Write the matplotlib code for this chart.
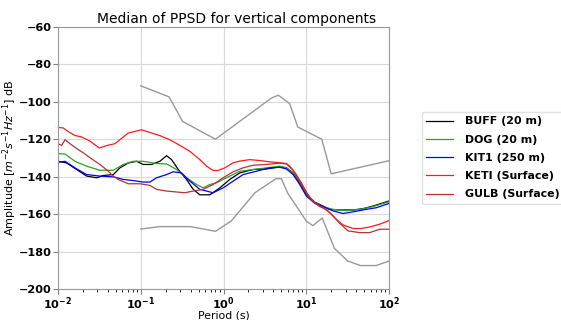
import numpy as np
import matplotlib
matplotlib.use("Agg")
import matplotlib.pyplot as plt

# ---- data (log10 of period in s, amplitude in dB) ----
buff_logp = [-2.0, -1.895, -1.775, -1.654, -1.533, -1.453, -1.332, -1.252, -1.151, -1.05, -0.97, -0.869,
             -0.769, -0.688, -0.628, -0.547, -0.447, -0.366, -0.286, -0.165, -0.044, 0.076, 0.197, 0.358,
             0.519, 0.68, 0.761, 0.841, 0.922, 1.002, 1.103, 1.203, 1.284, 1.404, 1.565, 1.686, 1.807, 2.0]
buff_db = [-131.8, -132.7, -136.2, -139.7, -140.6, -139.4, -138.9, -135.3, -132.7, -131.8, -133.5, -133.5,
           -131.8, -128.8, -130.9, -136.2, -141.5, -146.8, -149.7, -149.7, -146.0, -141.5, -138.0, -136.2,
           -135.9, -134.8, -135.3, -138.0, -143.3, -149.5, -153.6, -155.7, -157.5, -157.8, -157.8, -157.1,
           -155.7, -153.0]

dog_logp = [-2.0, -1.915, -1.795, -1.654, -1.493, -1.332, -1.211, -1.091, -0.97, -0.809, -0.688, -0.567,
            -0.447, -0.326, -0.246, -0.165, -0.085, 0.036, 0.197, 0.358, 0.519, 0.68, 0.761, 0.841, 0.922,
            1.002, 1.103, 1.203, 1.324, 1.485, 1.646, 1.807, 2.0]
dog_db = [-127.7, -127.9, -131.8, -134.4, -136.6, -136.6, -133.5, -131.8, -131.8, -133.0, -133.2, -136.2,
          -140.6, -144.2, -146.0, -144.2, -143.3, -140.6, -137.1, -136.2, -135.3, -134.4, -135.3, -138.3,
          -143.8, -150.0, -153.9, -156.0, -157.5, -158.2, -157.5, -156.0, -153.4]

kit1_logp = [-2.0, -1.915, -1.795, -1.654, -1.493, -1.332, -1.211, -1.091, -0.97, -0.889, -0.809, -0.688,
             -0.608, -0.507, -0.406, -0.286, -0.125, -0.004, 0.117, 0.237, 0.398, 0.559, 0.68, 0.761, 0.841,
             0.922, 1.002, 1.103, 1.203, 1.324, 1.445, 1.565, 1.686, 1.847, 2.0]
kit1_db = [-132.3, -131.8, -135.3, -138.9, -139.7, -140.1, -141.5, -142.1, -142.9, -142.9, -140.6, -138.9,
           -137.4, -138.0, -142.4, -146.8, -148.6, -146.0, -142.4, -138.9, -137.1, -135.3, -135.0, -135.9,
           -138.9, -144.2, -150.4, -154.3, -156.0, -158.3, -159.7, -158.8, -157.8, -156.6, -154.3]

keti_logp = [-2.0, -1.936, -1.875, -1.795, -1.714, -1.614, -1.501, -1.412, -1.312, -1.252, -1.151, -0.992,
             -0.889, -0.769, -0.648, -0.507, -0.406, -0.286, -0.205, -0.125, -0.064, 0.016, 0.117, 0.197,
             0.318, 0.439, 0.559, 0.68, 0.761, 0.801, 0.881, 0.962, 1.042, 1.123, 1.203, 1.284, 1.364, 1.445,
             1.565, 1.666, 1.767, 1.887, 2.0]
keti_db = [-113.7, -114.0, -116.0, -118.0, -118.8, -121.0, -124.7, -123.4, -122.4, -120.3, -116.7, -115.0,
           -116.4, -118.1, -120.3, -123.8, -126.5, -130.9, -134.4, -136.7, -136.7, -135.3, -132.6, -131.7,
           -130.9, -131.4, -132.1, -132.6, -133.0, -134.4, -138.9, -145.0, -151.3, -154.8, -156.6, -159.2,
           -162.8, -165.8, -167.7, -167.7, -166.9, -165.4, -163.5]

gulb_logp = [-2.0, -1.956, -1.915, -1.855, -1.775, -1.694, -1.594, -1.493, -1.392, -1.332, -1.272, -1.151,
             -1.01, -0.889, -0.809, -0.688, -0.567, -0.467, -0.366, -0.246, -0.125, -0.004, 0.117, 0.237,
             0.358, 0.519, 0.68, 0.761, 0.841, 0.922, 1.002, 1.082, 1.163, 1.243, 1.324, 1.404, 1.505, 1.646,
             1.767, 1.887, 2.0]
gulb_db = [-122.4, -123.3, -120.3, -122.4, -125.0, -127.3, -130.5, -133.5, -137.1, -139.7, -141.5, -143.8,
           -143.8, -144.7, -146.8, -147.7, -148.2, -148.6, -147.7, -146.8, -144.2, -140.6, -137.4, -135.3,
           -133.9, -133.5, -132.8, -133.2, -136.6, -142.4, -148.6, -153.0, -156.0, -157.5, -161.0, -164.9,
           -169.0, -169.9, -169.9, -168.1, -168.1]

# Noise model envelopes (period s, dB)
nhnm_period = [0.1, 0.22, 0.32, 0.8, 3.8, 4.6, 6.3, 7.9, 15.4, 20.0, 100.0]
nhnm_db = [-91.5, -97.4, -110.5, -120.0, -98.0, -96.5, -101.0, -113.5, -120.0, -138.5, -131.5]
nlnm_period = [0.1, 0.17, 0.4, 0.8, 1.24, 2.4, 4.3, 5.0, 6.0, 10.0, 12.0, 15.6, 21.9, 31.6, 45.0, 70.0, 100.0]
nlnm_db = [-168.0, -166.7, -166.7, -169.2, -163.7, -148.6, -141.1, -141.1, -149.0, -163.7, -166.2, -162.1,
           -178.3, -185.0, -187.5, -187.5, -185.1]

series_labels = ["BUFF (20 m)", "DOG (20 m)", "KIT1 (250 m)", "KETI (Surface)", "GULB (Surface)"]
series_colors = ["black", "#2ca02c", "blue", "#ff1a1a", "#b83232"]
series = [(buff_logp, buff_db), (dog_logp, dog_db), (kit1_logp, kit1_db),
          (keti_logp, keti_db), (gulb_logp, gulb_db)]

y_ticks = [-200, -180, -160, -140, -120, -100, -80, -60]

# ---- plot ----
fig = plt.figure(figsize=(5.61, 3.2), dpi=100)
ax = fig.add_axes([0.1034, 0.097, 0.59, 0.819])

ax.plot(nhnm_period, nhnm_db, color="0.6", lw=1.0)
ax.plot(nlnm_period, nlnm_db, color="0.6", lw=1.0)
for (lp, db), lab, col in zip(series, series_labels, series_colors):
    ax.plot(np.power(10.0, lp), db, color=col, lw=0.9, label=lab)

ax.set_xscale("log")
ax.set_xlim(1e-2, 1e2)
ax.set_ylim(-200, -60)
ax.set_yticks(y_ticks)
ax.grid(True, which="major", color="0.85", lw=0.8)
for s in ax.spines.values():
    s.set_color("0.6")
ax.tick_params(colors="0.5", labelcolor="black", labelsize=8.1, pad=1.2)
for t in ax.get_xticklabels() + ax.get_yticklabels():
    t.set_fontweight("bold")
ax.set_title("Median of PPSD for vertical components", fontsize=10, pad=3, x=0.538)
ax.set_xlabel("Period (s)", fontsize=7.8)
ax.set_ylabel(r"Amplitude [$m^{-2}s^{-1}Hz^{-1}$] dB", fontsize=8.0)
ax.xaxis.set_label_coords(0.5, -0.082)
ax.yaxis.set_label_coords(-0.118, 0.5)

leg = ax.legend(loc="center left", bbox_to_anchor=(1.10, 0.5), prop={"weight": "bold", "size": 7.9},
                handlelength=2.4, borderaxespad=0, handletextpad=1.1, labelspacing=0.75)
leg.get_frame().set_edgecolor("0.85")

fig.savefig("out.png", dpi=100)
